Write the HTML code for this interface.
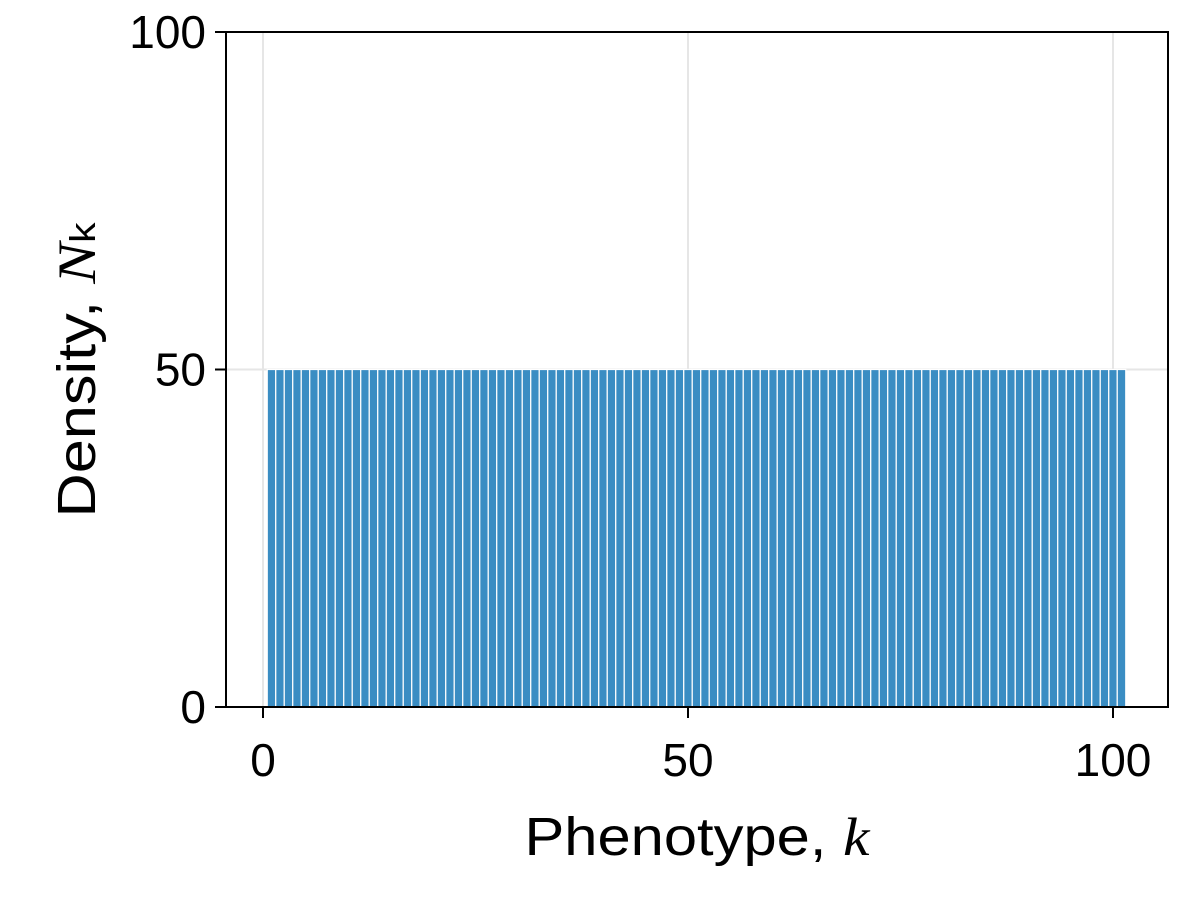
<!DOCTYPE html>
<html><head><meta charset="utf-8"><style>
body{margin:0;background:#fff}
svg text{font-family:"Liberation Sans",sans-serif;fill:#000}
</style></head><body>
<svg id="c" width="1200" height="900" xmlns="http://www.w3.org/2000/svg">
<g id="grid"></g>
<g id="bars"></g>
<rect x="226" y="32" width="942" height="675" fill="none" stroke="#000" stroke-width="2"/>
<g id="ticks"></g>
<text x="697" y="855" font-size="54" text-anchor="middle" textLength="345" lengthAdjust="spacingAndGlyphs">Phenotype, <tspan font-family="Liberation Serif" font-style="italic">k</tspan></text>
<text transform="translate(95,370) rotate(-90)" font-size="54" text-anchor="middle" textLength="295" lengthAdjust="spacingAndGlyphs">Density, <tspan font-family="Liberation Serif" font-style="italic">N</tspan><tspan font-size="36">k</tspan></text>
</svg>
<script>
const categories = Array.from({length:101},(_,i)=>i+1);
const values = [50,50,50,50,50,50,50,50,50,50,50,50,50,50,50,50,50,50,50,50,50,50,50,50,50,50,50,50,50,50,50,50,50,50,50,50,50,50,50,50,50,50,50,50,50,50,50,50,50,50,50,50,50,50,50,50,50,50,50,50,50,50,50,50,50,50,50,50,50,50,50,50,50,50,50,50,50,50,50,50,50,50,50,50,50,50,50,50,50,50,50,50,50,50,50,50,50,50,50,50,50];
const xTicks = [0,50,100];
const yTicks = [0,50,100];
const NS="http://www.w3.org/2000/svg";
const sx = v => 263 + v*8.5;
const sy = v => 707 - v*6.75;
const grid=document.getElementById('grid'), bars=document.getElementById('bars'), ticks=document.getElementById('ticks');
function mk(tag,attrs,parent){const e=document.createElementNS(NS,tag);for(const k in attrs)e.setAttribute(k,attrs[k]);parent.appendChild(e);return e;}
xTicks.forEach(t=>{
  const g=mk('line',{x1:sx(t),x2:sx(t),y1:32,y2:707,stroke:'#e6e6e6','stroke-width':2},grid);
  
  
  const l=mk('line',{x1:sx(t),x2:sx(t),y1:707,y2:718,stroke:'#000','stroke-width':2},ticks);
  
  
  const tx=mk('text',{x:sx(t),y:776,'font-size':46,'text-anchor':'middle'},ticks);
  tx.textContent=t;
  
  
});
yTicks.forEach(t=>{
  const g=mk('line',{x1:226,x2:1168,y1:sy(t),y2:sy(t),stroke:'#e6e6e6','stroke-width':2},grid);
  
  
  const l=mk('line',{x1:215,x2:226,y1:sy(t),y2:sy(t),stroke:'#000','stroke-width':2},ticks);
  
  
  const tx=mk('text',{x:206,y:sy(t)+16,'font-size':46,'text-anchor':'end'},ticks);
  tx.textContent=t;
  
  
});
categories.forEach((k,i)=>{
  const x0=sx(k-0.5), x1=sx(k+0.5);
  const r=mk('rect',{x:x0,y:sy(values[i]),width:x1-x0,height:sy(0)-sy(values[i]),fill:'#3a8dc3',stroke:'#fff','stroke-width':1.2},bars);
  
  
});
</script>
</body></html>
